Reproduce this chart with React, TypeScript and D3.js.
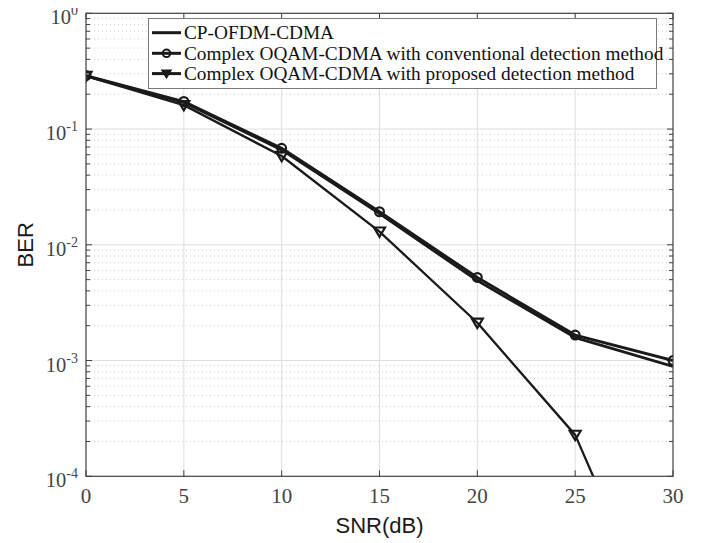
import React, { useEffect, useRef } from "react";
import * as d3 from "d3";

// SNR points (dB)
const snr = [0, 5, 10, 15, 20, 25, 30];

// BER
const berCpOfdm = [0.287, 0.170, 0.0660, 0.0186, 0.00490, 0.00158, 0.00089];
const berConventional = [0.290, 0.173, 0.0682, 0.0193, 0.00522, 0.00166, 0.00100];
const berProposed = [0.287, 0.161, 0.0585, 0.0130, 0.00212, 0.000228, 0.0000026];

const seriesNames = [
    "CP-OFDM-CDMA",
    "Complex OQAM-CDMA with conventional detection method",
    "Complex OQAM-CDMA with proposed detection method",
];

const xTicks = [0, 5, 10, 15, 20, 25, 30];
const yExponents = [0, -1, -2, -3, -4];

const SERIF = "'Liberation Serif', 'Times New Roman', serif";
const SANS = "'Liberation Sans', Arial, sans-serif";

export default function App() {
    const ref = useRef<SVGSVGElement>(null);

    useEffect(() => {
        const width = 712, height = 543;
        const margin = { top: 13.3, right: 39, bottom: 66.7, left: 86 };
        const ink = "#1a1a1a";

        const svg = d3.select(ref.current);
        svg.selectAll("*").remove();
        svg.attr("width", width).attr("height", height);

        const x = d3.scaleLinear()
            .domain([0, 30])
            .range([margin.left, width - margin.right]);

        const y = d3.scaleLog()
            .domain([1e-4, 1])
            .range([height - margin.bottom, margin.top]);

        const [x0, x1] = x.range();
        const [yb, yt] = y.range();

        svg.append("rect")
            .attr("x", x0).attr("y", yt)
            .attr("width", x1 - x0).attr("height", yb - yt)
            .attr("fill", "#fff");

        // minor grid (2..9 within each decade)
        const minor: number[] = [];
        for (let e = -4; e < 0; e++) {
            for (let m = 2; m <= 9; m++) minor.push(m * Math.pow(10, e));
        }
        svg.append("g").selectAll("line")
            .data(minor)
            .enter()
            .append("line")
            .attr("x1", x0).attr("x2", x1)
            .attr("y1", d => y(d)).attr("y2", d => y(d))
            .attr("stroke", "#cfcfcf")
            .attr("stroke-width", 1)
            .attr("stroke-dasharray", "1,3");

        // major grid
        svg.append("g").selectAll("line")
            .data(yExponents.slice(1, -1))
            .enter()
            .append("line")
            .attr("x1", x0).attr("x2", x1)
            .attr("y1", d => y(Math.pow(10, d))).attr("y2", d => y(Math.pow(10, d)))
            .attr("stroke", "#dedede");

        svg.append("g").selectAll("line")
            .data(xTicks.slice(1, -1))
            .enter()
            .append("line")
            .attr("x1", d => x(d)).attr("x2", d => x(d))
            .attr("y1", yt).attr("y2", yb)
            .attr("stroke", "#dedede");

        // ticks, inward on all four sides
        const ticks = svg.append("g").attr("stroke", "#404040").attr("stroke-width", 1);
        xTicks.forEach(t => {
            ticks.append("line").attr("x1", x(t)).attr("x2", x(t)).attr("y1", yb).attr("y2", yb - 6);
            ticks.append("line").attr("x1", x(t)).attr("x2", x(t)).attr("y1", yt).attr("y2", yt + 6);
        });
        yExponents.forEach(e => {
            const v = y(Math.pow(10, e));
            ticks.append("line").attr("x1", x0).attr("x2", x0 + 6).attr("y1", v).attr("y2", v);
            ticks.append("line").attr("x1", x1).attr("x2", x1 - 6).attr("y1", v).attr("y2", v);
        });
        minor.forEach(m => {
            const v = y(m);
            ticks.append("line").attr("x1", x0).attr("x2", x0 + 4).attr("y1", v).attr("y2", v);
            ticks.append("line").attr("x1", x1).attr("x2", x1 - 4).attr("y1", v).attr("y2", v);
        });

        // tick labels
        svg.append("g").selectAll("text")
            .data(xTicks)
            .enter()
            .append("text")
            .attr("x", d => x(d))
            .attr("y", yb + 27)
            .attr("text-anchor", "middle")
            .attr("font-family", SERIF)
            .attr("font-size", 21)
            .attr("fill", "#444")
            .text(d => d);

        const yl = svg.append("g").selectAll("text")
            .data(yExponents)
            .enter()
            .append("text")
            .attr("x", 78)
            .attr("y", d => y(Math.pow(10, d)) + 11)
            .attr("text-anchor", "end")
            .attr("font-family", SERIF)
            .attr("font-size", 20.5)
            .attr("fill", "#444");
        yl.append("tspan").text("10");
        yl.append("tspan")
            .attr("dy", -9)
            .attr("font-size", 14)
            .text(d => d);

        // axis titles
        svg.append("text")
            .attr("x", (x0 + x1) / 2)
            .attr("y", 533)
            .attr("text-anchor", "middle")
            .attr("font-family", SANS)
            .attr("font-size", 22)
            .attr("fill", "#1a1a1a")
            .text("SNR(dB)");

        svg.append("text")
            .attr("transform", `translate(33,${(yt + yb) / 2}) rotate(-90)`)
            .attr("text-anchor", "middle")
            .attr("font-family", SANS)
            .attr("font-size", 22)
            .attr("fill", "#1a1a1a")
            .text("BER");

        // curves
        svg.append("clipPath").attr("id", "plot-clip")
            .append("rect")
            .attr("x", x0).attr("y", yt)
            .attr("width", x1 - x0).attr("height", yb - yt);

        const line = d3.line<number>()
            .x((_, i) => x(snr[i]))
            .y(d => y(d));

        const plot = svg.append("g").attr("clip-path", "url(#plot-clip)");
        const series = [
            { values: berCpOfdm, width: 2.8, marker: "none" },
            { values: berConventional, width: 2.8, marker: "circle" },
            { values: berProposed, width: 2.3, marker: "triangle" },
        ];

        const triangle = (cx: number, cy: number, s: number) =>
            `M${cx - s},${cy - s * 0.75}L${cx + s},${cy - s * 0.75}L${cx},${cy + s * 0.95}Z`;

        series.forEach(s => {
            plot.append("path")
                .attr("d", line(s.values))
                .attr("fill", "none")
                .attr("stroke", ink)
                .attr("stroke-width", s.width)
                .attr("stroke-linejoin", "round");
        });

        series.forEach(s => {
            if (s.marker === "circle") {
                plot.selectAll(null)
                    .data(s.values)
                    .enter()
                    .append("circle")
                    .attr("cx", (_, i) => x(snr[i]))
                    .attr("cy", d => y(d))
                    .attr("r", 4.4)
                    .attr("fill", "none")
                    .attr("stroke", ink)
                    .attr("stroke-width", 2.2);
            } else if (s.marker === "triangle") {
                plot.selectAll(null)
                    .data(s.values)
                    .enter()
                    .append("path")
                    .attr("d", (d, i) => triangle(x(snr[i]), y(d), 5.5))
                    .attr("fill", "none")
                    .attr("stroke", ink)
                    .attr("stroke-width", 2.2)
                    .attr("stroke-linejoin", "miter");
            }
        });

        // box
        svg.append("rect")
            .attr("x", x0).attr("y", yt)
            .attr("width", x1 - x0).attr("height", yb - yt)
            .attr("fill", "none")
            .attr("stroke", "#404040")
            .attr("stroke-width", 1.2);

        // legend
        const lg = svg.append("g");
        lg.append("rect")
            .attr("x", 148.5).attr("y", 18.5)
            .attr("width", 508).attr("height", 70)
            .attr("fill", "#fff")
            .attr("stroke", "#7a7a7a")
            .attr("stroke-width", 1);

        const rowY = [32.7, 53.3, 73.6];
        series.forEach((s, i) => {
            const cy = rowY[i];
            lg.append("line")
                .attr("x1", 152).attr("x2", 181)
                .attr("y1", cy).attr("y2", cy)
                .attr("stroke", ink)
                .attr("stroke-width", 3);
            if (s.marker === "circle") {
                lg.append("circle")
                    .attr("cx", 166.5).attr("cy", cy).attr("r", 3.8)
                    .attr("fill", "none").attr("stroke", ink).attr("stroke-width", 2);
            } else if (s.marker === "triangle") {
                lg.append("path")
                    .attr("d", triangle(166.5, cy, 4.5))
                    .attr("fill", ink).attr("stroke", ink).attr("stroke-width", 1.5);
            }
            lg.append("text")
                .attr("x", 184)
                .attr("y", cy + 6.3)
                .attr("font-family", SERIF)
                .attr("font-size", 19.3)
                .attr("fill", "#111")
                .text(seriesNames[i]);
        });
    }, []);

    return (
        <div style={{ margin: -8 }}>
            <svg ref={ref}></svg>
        </div>
    );
}
